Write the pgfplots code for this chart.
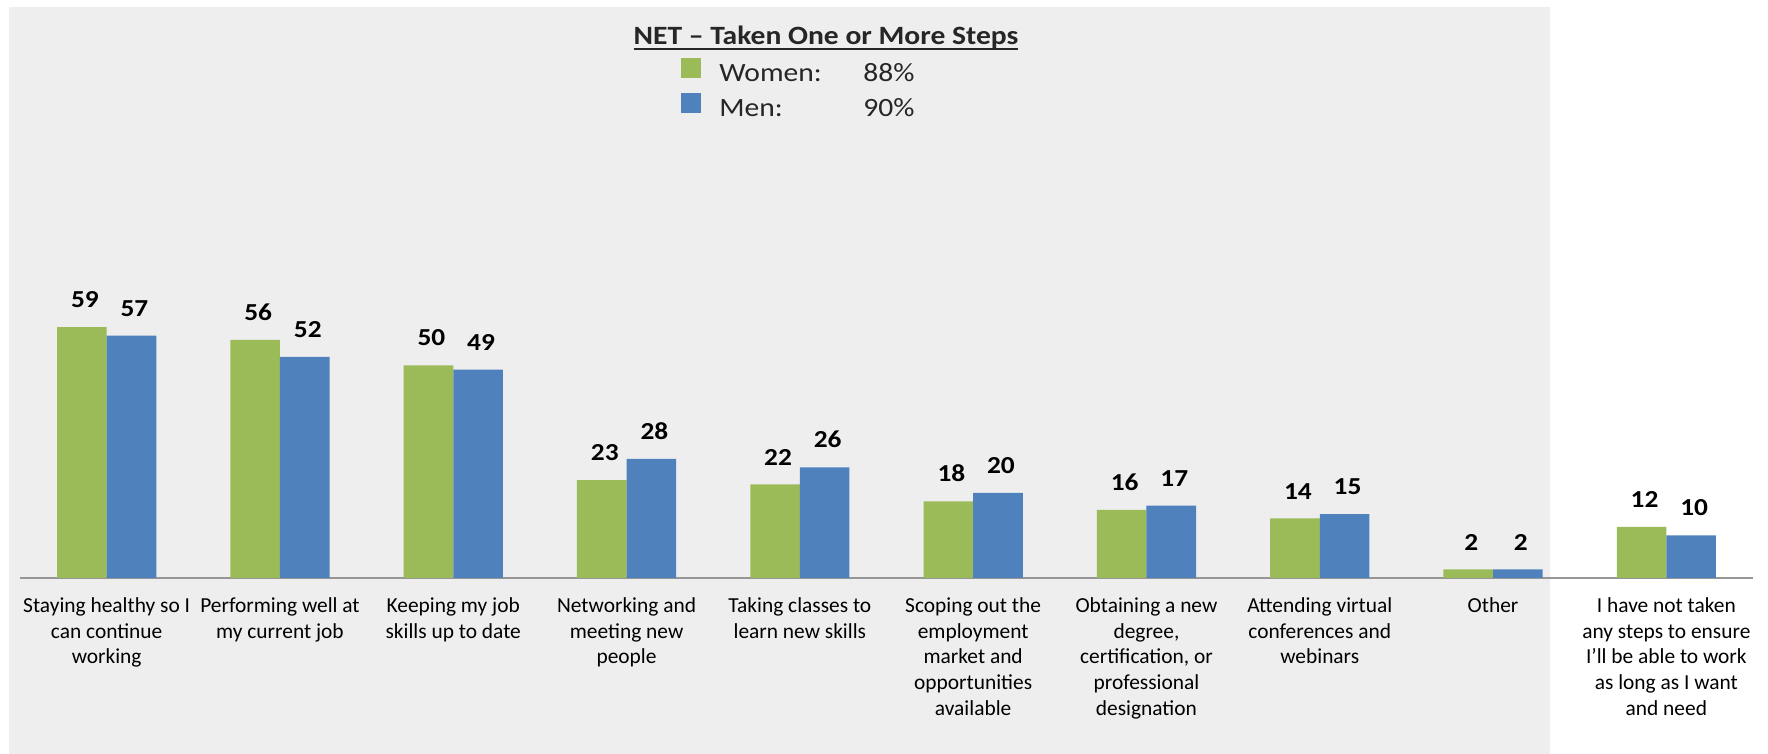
\documentclass[border=0pt]{standalone}
\usepackage{pgfplots}
\pgfplotsset{compat=1.18}
\usepackage{fontspec}
\setmainfont{Carlito}
\newfontfamily\widefont[FakeStretch=1.12]{Carlito}
\definecolor{wgreen}{HTML}{9BBB59}
\definecolor{mblue}{HTML}{4F81BD}
\definecolor{panel}{HTML}{EEEEEE}
\definecolor{axgray}{HTML}{969696}
\newcommand\ul[1]{\setbox0\hbox{#1}\rlap{\rule[-2.5pt]{\wd0}{0.85pt}}\box0}
\begin{document}
\begin{tikzpicture}
\useasboundingbox (0,0) rectangle (884pt,377pt);
\fill[panel] (4.5pt,0pt) rectangle (775pt,373.5pt);
\node[anchor=base,inner sep=0pt,font=\widefont\fontsize{13.2}{15}\selectfont\bfseries,text=black!85] at (413pt,354.5pt) {\ul{NET – Taken One or More Steps}};
\begin{axis}[
  at={(10pt,88pt)}, anchor=south west,
  scale only axis, width=866.5pt, height=212.5pt,
  xmin=-0.5, xmax=9.5, ymin=0, ymax=100,
  ybar=0pt, bar width=24.8pt,
  axis y line=none, axis x line*=bottom,
  x axis line style={axgray, line width=1pt, -},
  ytick=\empty,
  xtick={0,...,9},
  major tick length=0pt,
  xticklabels={
    {\strut Staying healthy so I\\can continue\\working},
    {\strut Performing well at\\my current job},
    {\strut Keeping my job\\skills up to date},
    {\strut Networking and\\meeting new\\people},
    {\strut Taking classes to\\learn new skills},
    {\strut Scoping out the\\employment\\market and\\opportunities\\available},
    {\strut Obtaining a new\\degree,\\certification, or\\professional\\designation},
    {\strut Attending virtual\\conferences and\\webinars},
    {\strut Other},
    {\strut I have not taken\\any steps to ensure\\I’ll be able to work\\as long as I want\\and need}},
  xticklabel style={font=\fontsize{10.7}{12.9}\selectfont, align=center, anchor=north, inner sep=0pt, yshift=-7.9pt},
  nodes near coords,
  nodes near coords style={font=\widefont\fontsize{12.2}{14}\selectfont\bfseries, anchor=south, inner sep=0pt, yshift=9.5pt, xshift=1.5pt},
  /pgf/number format/assume math mode=true,
  clip=false,
  legend image code/.code={\fill[#1] (0pt,-0.85pt) rectangle (10pt,9.15pt);},
  legend style={at={(0.3814,1.2238)}, anchor=north west, draw=none, fill=none,
    font=\widefont\fontsize{13.2}{15}\selectfont, text=black!85, inner sep=0pt,
    nodes={inner sep=0pt, text height=10.7pt, text depth=6pt},
    column sep=9pt},
  legend cell align=left,
]
\addplot[fill=wgreen, draw=none] coordinates {(0,59) (1,56) (2,50) (3,23) (4,22) (5,18) (6,16) (7,14) (8,2) (9,12)};
\addplot[fill=mblue, draw=none] coordinates {(0,57) (1,52) (2,49) (3,28) (4,26) (5,20) (6,17) (7,15) (8,2) (9,10)};
\legend{\makebox[72pt][l]{Women:}88\%, \makebox[72pt][l]{Men:}90\%}
\end{axis}
\end{tikzpicture}
\end{document}
